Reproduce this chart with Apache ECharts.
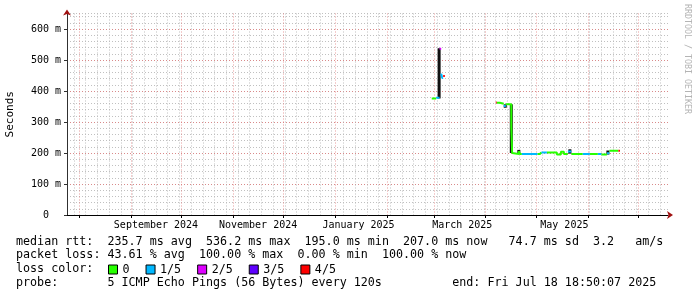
<!DOCTYPE html>
<html><head><meta charset="utf-8">
<script src="https://cdn.jsdelivr.net/npm/echarts@6/dist/echarts.min.js"></script>
<style>html,body{margin:0;padding:0;background:#fff}#c{width:697px;height:297px}</style>
</head><body><div id="c"></div>
<script>
// ---------- data ----------
const lossLabels = ['0', '1/5', '2/5', '3/5', '4/5'];
const lossColors = ['#26ff00', '#00b8ff', '#dd00ff', '#5e00ff', '#ff0000'];

// median rtt, as constant pieces: start time, median (ms), loss level (index into lossLabels); null = no data
const pieceStart = [
  '2025-02-27 18:00', '2025-03-02 10:00', '2025-03-04 10:00', '2025-03-05 10:00', '2025-03-06 00:00',
  '2025-03-06 14:00', '2025-03-07 14:00',
  '2025-04-07 00:00', '2025-04-07 14:00', '2025-04-09 10:00', '2025-04-11 19:00', '2025-04-13 00:00',
  '2025-04-16 07:00', '2025-04-16 19:00', '2025-04-17 19:00', '2025-04-20 19:00', '2025-04-21 10:00',
  '2025-04-22 14:00', '2025-05-01 21:00', '2025-05-03 09:00', '2025-05-04 07:00', '2025-05-07 13:00',
  '2025-05-13 12:00', '2025-05-15 22:00', '2025-05-17 17:00', '2025-05-20 02:00', '2025-05-22 04:00',
  '2025-05-29 00:00', '2025-06-02 05:00', '2025-06-07 00:00', '2025-06-09 02:00', '2025-06-12 10:00',
  '2025-06-13 22:00', '2025-06-19 07:00', '2025-06-20 05:00'
];
const pieceMedian = [
  376, 378, 536, 456, 442,
  448, null,
  363, 362, 359, 352, 357,
  284, 200, 197, 206, 197,
  197, 197, 202, 202, 202,
  195, 204, 197, 205, 197,
  197, 197, 197, 195, 199,
  207, 207, null
];
const pieceLoss = [
  0, 1, 2, 1, 1,
  4, 0,
  4, 0, 0, 1, 0,
  0, 0, 0, 0, 0,
  1, 0, 0, 1, 0,
  0, 0, 0, 1, 0,
  1, 0, 1, 0, 1,
  0, 4, 0
];

// smoke (ping spread) columns: time, lowest, highest (ms)
const smokeTime = ['2025-03-04 04:00', '2025-04-12 16:00', '2025-04-16 07:00', '2025-04-20 19:00', '2025-05-21 07:00', '2025-06-13 00:00'];
const smokeLow  = [376, 346, 200, 197, 198, 195];
const smokeHigh = [538, 357, 357, 210, 212, 208];

// axes
const timeStart = '2024-07-24 20:00';
const timeEnd = '2025-07-18 22:00';
const monthStarts = ['2024-08-01', '2024-09-01', '2024-10-01', '2024-11-01', '2024-12-01', '2025-01-01',
  '2025-02-01', '2025-03-01', '2025-04-01', '2025-05-01', '2025-06-01', '2025-07-01'];
const monthLabelAt = ['2024-09-16', '2024-11-16', '2025-01-15', '2025-03-18', '2025-05-18'];
const monthLabelText = ['September 2024', 'November 2024', 'January 2025', 'March 2025', 'May 2025'];
const yTicks = [0, 100, 200, 300, 400, 500, 600];

const legendLines = [
  'median rtt:  235.7 ms avg  536.2 ms max  195.0 ms min  207.0 ms now   74.7 ms sd  3.2   am/s',
  'packet loss: 43.61 % avg  100.00 % max  0.00 % min  100.00 % now',
  'loss color:',
  'probe:       5 ICMP Echo Pings (56 Bytes) every 120s          end: Fri Jul 18 18:50:07 2025'
];

// ---------- build ----------
function ts(s) {
  const [d, t = '00:00'] = s.split(' ');
  const [Y, M, D] = d.split('-').map(Number);
  const [h, m] = t.split(':').map(Number);
  return Date.UTC(Y, M - 1, D, h, m);
}
const DAY = 86400000;
const xMin = ts(timeStart), xMax = ts(timeEnd);
const monthTicks = monthStarts.map(ts);
const labelTicks = monthLabelAt.map(ts);
const weekTicks = [];
for (let t = ts('2024-07-29'); t < xMax; t += 7 * DAY) weekTicks.push(t);

function lossSeriesData(k) {
  const out = [];
  let prevIn = false;
  for (let i = 0; i < pieceStart.length - 1; i++) {
    const v = pieceMedian[i];
    if (v == null || pieceLoss[i] !== k) { prevIn = false; continue; }
    const a = ts(pieceStart[i]), b = ts(pieceStart[i + 1]);
    if (!prevIn && out.length) out.push([a, null]);
    out.push([a, v], [b, v]);
    prevIn = true;
  }
  return out;
}

const mono = 'DejaVu Sans Mono';
const minorCol = 'rgba(185,185,185,0.9)';
const majorCol = 'rgba(225,120,120,0.75)';

const series = lossLabels.map((lab, k) => ({
  name: lab, type: 'line', xAxisIndex: 1, yAxisIndex: 1,
  data: lossSeriesData(k), showSymbol: false, symbol: 'none', connectNulls: false,
  color: lossColors[k], itemStyle: { color: lossColors[k] },
  lineStyle: { color: lossColors[k], width: 2 }, z: 5, animation: false
}));
series.unshift({
  name: 'smoke', type: 'custom', xAxisIndex: 1, yAxisIndex: 1, z: 3, animation: false,
  data: smokeTime.map((t, i) => [ts(t), smokeLow[i], smokeHigh[i]]),
  encode: { x: 0, y: [1, 2] },
  renderItem(params, api) {
    const lo = api.coord([api.value(0), api.value(1)]);
    const hi = api.coord([api.value(0), api.value(2)]);
    return { type: 'rect', shape: { x: lo[0] - 1.5, y: hi[1], width: 3, height: lo[1] - hi[1] }, style: { fill: '#111' } };
  }
});

const grid = { left: 67, right: 29, top: 13.5, bottom: 82, containLabel: false, outerBoundsMode: 'none' };

const option = {
  animation: false,
  backgroundColor: '#fff',
  grid,
  legend: {
    data: lossLabels, left: 108, top: 263.5, icon: 'rect', itemWidth: 9, itemHeight: 9, itemGap: 16,
    itemStyle: { borderColor: '#000', borderWidth: 1 },
    textStyle: { fontFamily: mono, fontSize: 11.7, color: '#000' }, selectedMode: false, padding: 0
  },
  xAxis: [
    { // weekly minor grid
      type: 'value', min: xMin, max: xMax, position: 'bottom',
      axisLine: { show: false }, axisLabel: { show: false },
      axisTick: { show: false, customValues: weekTicks },
      splitLine: { show: true, lineStyle: { color: minorCol, type: [1, 2], width: 1 } }
    },
    { // main
      type: 'value', min: xMin, max: xMax, position: 'bottom',
      axisLine: { show: true, onZero: false, lineStyle: { color: '#000', width: 1 } },
      axisTick: { show: true, length: 3, customValues: monthTicks, lineStyle: { color: '#000' } },
      axisLabel: {
        customValues: labelTicks, margin: 5, fontFamily: mono, fontSize: 10, color: '#000',
        formatter: v => { const i = labelTicks.indexOf(v); return i >= 0 ? monthLabelText[i] : ''; }
      },
      splitLine: { show: true, lineStyle: { color: majorCol, type: [1, 2], width: 1 } }
    },
    { // arrow
      type: 'value', min: xMin, max: xMax, position: 'bottom',
      axisLine: { show: true, onZero: false, symbol: ['none', 'arrow'], symbolSize: [6, 6], symbolOffset: [0, 5],
        lineStyle: { color: '#a01010', width: 0 } },
      axisTick: { show: false }, axisLabel: { show: false }, splitLine: { show: false }
    }
  ],
  yAxis: [
    { // minor grid
      type: 'value', min: 0, max: 650, interval: 20, position: 'left',
      axisLine: { show: false }, axisTick: { show: false }, axisLabel: { show: false },
      splitLine: { show: true, lineStyle: { color: minorCol, type: [1, 2], width: 1 } }
    },
    { // main
      type: 'value', min: 0, max: 650, position: 'left',
      name: 'Seconds', nameLocation: 'middle', nameGap: 51, nameRotate: 90,
      nameTextStyle: { fontFamily: mono, fontSize: 11, color: '#000' },
      axisLine: { show: true, onZero: false, lineStyle: { color: '#303030', width: 1 } },
      axisTick: { show: true, length: 3, customValues: yTicks, lineStyle: { color: '#303030' } },
      axisLabel: { customValues: yTicks, margin: 6, fontFamily: mono, fontSize: 10, color: '#000',
        formatter: v => v === 0 ? '0  ' : v + ' m' },
      splitLine: { show: true, lineStyle: { color: majorCol, type: [1, 2], width: 1 } }
    },
    { // arrow
      type: 'value', min: 0, max: 650, position: 'left',
      axisLine: { show: true, onZero: false, symbol: ['none', 'arrow'], symbolSize: [6, 6], symbolOffset: [0, 4],
        lineStyle: { color: '#a01010', width: 0 } },
      axisTick: { show: false }, axisLabel: { show: false }, splitLine: { show: false }
    }
  ],
  series,
  graphic: [
    ...legendLines.map((txt, i) => ({
      type: 'text', left: 16, top: 235.5 + i * 13.9, silent: true,
      style: { text: txt, fontFamily: mono, fontSize: 11.7, fill: '#000' }
    })),
    { type: 'text', x: 691, y: 4, rotation: -Math.PI / 2, silent: true,
      style: { text: 'RRDTOOL / TOBI OETIKER', fontFamily: mono, fontSize: 8.3, fill: '#b4b4b4', textAlign: 'left', textVerticalAlign: 'top' } }
  ]
};

const chart = echarts.init(document.getElementById('c'), null, { renderer: 'canvas' });
chart.setOption(option);
</script>
</body></html>
